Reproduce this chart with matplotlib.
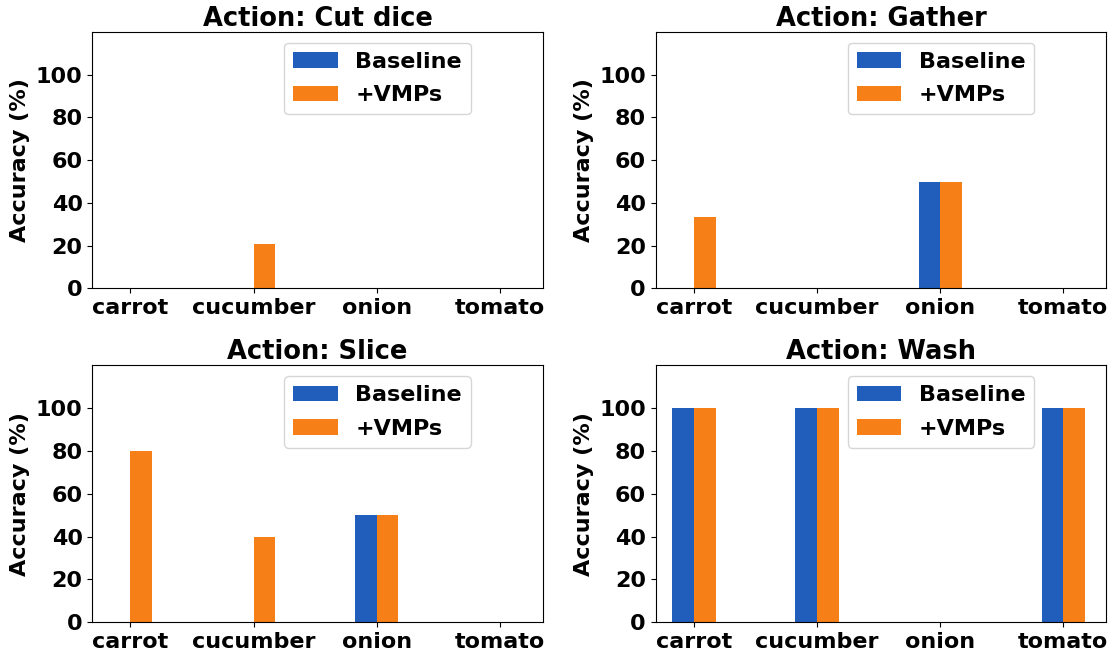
import matplotlib
matplotlib.use("Agg")
import matplotlib.pyplot as plt
import numpy as np

categories = ["carrot", "cucumber", "onion", "tomato"]
actions = ["Cut dice", "Gather", "Slice", "Wash"]
baseline = {
    "Cut dice": [0, 0, 0, 0],
    "Gather": [0, 0, 50, 0],
    "Slice": [0, 0, 50, 0],
    "Wash": [100, 100, 0, 100],
}
vmps = {
    "Cut dice": [0, 21, 0, 0],
    "Gather": [33.3, 0, 50, 0],
    "Slice": [80, 40, 50, 0],
    "Wash": [100, 100, 0, 100],
}
series_labels = ["Baseline", "+VMPs"]
colors = ["#215EBB", "#F77F17"]

plt.rcParams["font.weight"] = "bold"
fig, axes = plt.subplots(2, 2, figsize=(11.12, 6.5), dpi=100)
w = 0.176
x = np.arange(len(categories))
for ax, act in zip(axes.flat, actions):
    ax.bar(x - w / 2, baseline[act], width=w, color=colors[0], label=series_labels[0])
    ax.bar(x + w / 2, vmps[act], width=w, color=colors[1], label=series_labels[1])
    ax.set_xticks(x)
    ax.set_xticklabels(categories, fontsize=16, fontweight="bold")
    ax.set_xlim(-0.31, 3.35)
    ax.set_ylim(0, 120)
    ax.set_yticks([0, 20, 40, 60, 80, 100])
    ax.tick_params(axis="y", labelsize=16)
    for lab in ax.get_yticklabels():
        lab.set_fontweight("bold")
    ax.set_ylabel("Accuracy (%)", fontsize=16, fontweight="bold")
    ax.set_title(f"Action: {act}", fontsize=18.5, fontweight="bold", pad=4)
    ax.legend(loc="upper right", bbox_to_anchor=(0.840, 0.957), borderaxespad=0,
              labelspacing=0.6, prop={"size": 16, "weight": "bold"})

fig.subplots_adjust(left=0.083, right=0.995, top=0.951, bottom=0.043,
                    wspace=0.25, hspace=0.3)
fig.savefig("out.png", dpi=100)
